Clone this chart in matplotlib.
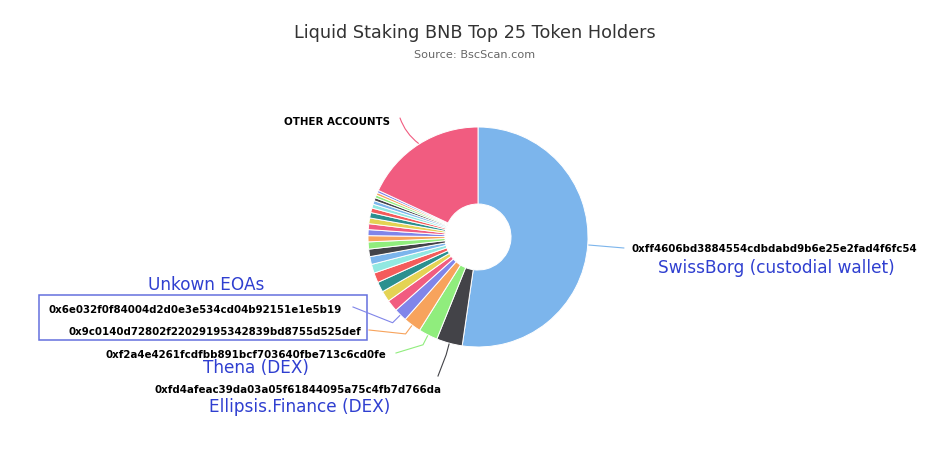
import numpy as np
import matplotlib.pyplot as plt

# top 25 holders (% of supply) + remaining accounts, clockwise from 12 o'clock
holders = [
    '0xff4606bd3884554cdbdabd9b6e25e2fad4f6fc54',
    '0xfd4afeac39da03a05f61844095a75c4fb7d766da',
    '0xf2a4e4261fcdfbb891bcf703640fbe713c6cd0fe',
    '0x9c0140d72802f22029195342839bd8755d525def',
    '0x6e032f0f84004d2d0e3e534cd04b92151e1e5b19',
] + ['holder_%d' % i for i in range(6, 26)] + ['OTHER ACCOUNTS']
shares = [52.2, 3.8, 2.8, 2.6, 1.9, 1.7, 1.6, 1.5, 1.45, 1.3,
          1.15, 1.1, 1.05, 0.9, 0.88, 0.86, 0.84, 0.8, 0.67, 0.58,
          0.53, 0.45, 0.42, 0.38, 0.35, 18.0]

# which slices get a name underneath the address
names = {
    0: 'SwissBorg (custodial wallet)',
    1: 'Ellipsis.Finance (DEX)',
    2: 'Thena (DEX)',
}

palette = ['#7cb5ec', '#434348', '#90ed7d', '#f7a35c', '#8085e9',
           '#f15c80', '#e4d354', '#2b908f', '#f45b5b', '#91e8e1']
colors = [palette[i % 10] for i in range(len(shares))]

W, H = 950, 456
fig = plt.figure(figsize=(W / 100, H / 100), dpi=100)
ax = fig.add_axes([0, 0, 1, 1])

cx, cy, R = 478, H - 238, 110
wedges, _ = ax.pie(shares, colors=colors, startangle=90, counterclock=False,
                   center=(cx, cy), radius=R,
                   wedgeprops=dict(width=R * 0.7, edgecolor='white', linewidth=0.7))
ax.set_xlim(0, W)
ax.set_ylim(0, H)
ax.set_aspect('equal')
ax.axis('off')


def fy(y):
    return H - y


def edge(i, r):
    w = wedges[i]
    a = np.deg2rad((w.theta1 + w.theta2) / 2)
    return cx + r * np.cos(a), cy + r * np.sin(a)


label_font = dict(fontsize=7.4, fontweight='bold', color='black', va='center')
name_font = dict(fontsize=12.2, color='#2f3fd0', va='center', ha='center')

# connectors: (slice, label end point in px, elbow radius)
connectors = [
    (0, (624, 249), 116),
    (25, (400, 119), 116),
    (4, (353, 308), 121),
    (3, (369, 331), 121),
    (2, (396, 354), 121),
    (1, (438, 377), 122),
]
for i, (lx, ly), re in connectors:
    x0, y0 = edge(i, R + 1)
    x1, y1 = edge(i, re)
    if i in (0, 25):
        ax.annotate('', xy=(x0, y0), xytext=(lx, fy(ly)),
                    arrowprops=dict(arrowstyle='-', color=colors[i], lw=0.8,
                                    connectionstyle='arc3,rad=0.15' if i == 25 else 'arc3,rad=0',
                                    shrinkA=0, shrinkB=0))
    else:
        ax.plot([lx, x1, x0], [fy(ly), y1, y0], color=colors[i], lw=0.8,
                solid_joinstyle='round')

ax.text(632, fy(249), holders[0], ha='left', **label_font)
ax.text(776, fy(268), names[0], **name_font)
ax.text(390, fy(122), holders[25], ha='right', **label_font)
ax.text(342, fy(310), holders[4], ha='right', **label_font)
ax.text(361, fy(332), holders[3], ha='right', **label_font)
ax.text(386, fy(355), holders[2], ha='right', **label_font)
ax.text(441, fy(390), holders[1], ha='right', **label_font)
ax.text(256, fy(368), names[2], **name_font)
ax.text(300, fy(407), names[1], **name_font)
ax.text(206, fy(285), 'Unkown EOAs', **name_font)
ax.add_patch(plt.Rectangle((39, fy(341)), 328, 45, fill=False,
                           edgecolor='#6470de', linewidth=1.1))

fig.text(0.5, 1 - 33 / H, 'Liquid Staking BNB Top 25 Token Holders',
         ha='center', va='center', fontsize=12.7, color='#333333')
fig.text(0.5, 1 - 55 / H, 'Source: BscScan.com',
         ha='center', va='center', fontsize=8.1, color='#666666')

fig.savefig('out.png', dpi=100, facecolor='white')
